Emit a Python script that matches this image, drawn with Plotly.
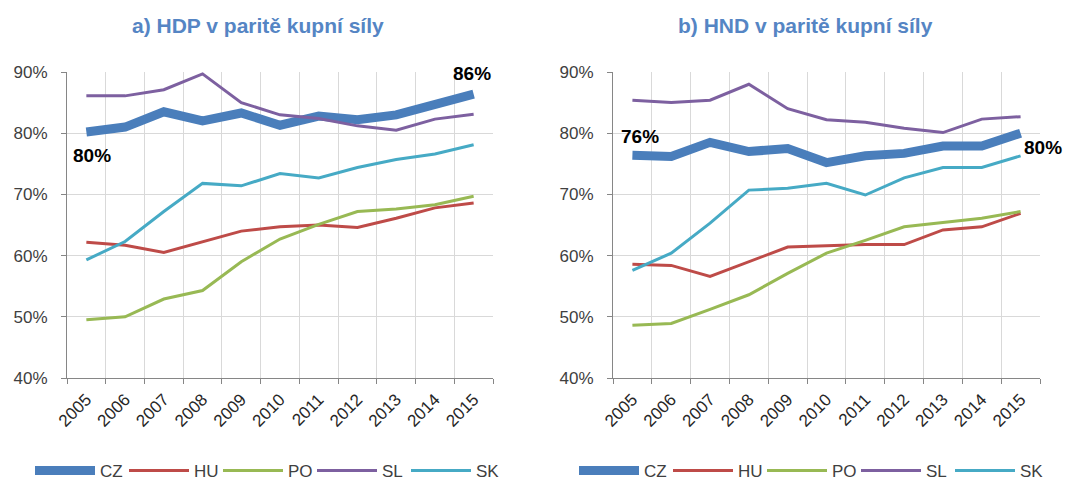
import plotly.graph_objects as go

years = [str(y) for y in range(2005, 2016)]
countries = ["CZ", "HU", "PO", "SL", "SK"]
colors = {"CZ": "#4A7EBB", "HU": "#BE4B48", "PO": "#98B954", "SL": "#7D60A0", "SK": "#46AAC5"}
widths = {"CZ": 9, "HU": 3, "PO": 3, "SL": 3, "SK": 3}

# a) HDP v paritě kupní síly (%)
hdp_CZ = [80.2, 81.0, 83.5, 82.0, 83.3, 81.3, 82.8, 82.2, 83.0, 84.6, 86.4]
hdp_HU = [62.2, 61.7, 60.5, 62.3, 64.0, 64.7, 65.0, 64.6, 66.1, 67.8, 68.6]
hdp_PO = [49.5, 50.0, 52.9, 54.3, 59.0, 62.7, 65.1, 67.2, 67.6, 68.3, 69.7]
hdp_SL = [86.1, 86.1, 87.1, 89.7, 85.0, 83.0, 82.4, 81.2, 80.5, 82.3, 83.1]
hdp_SK = [59.3, 62.3, 67.2, 71.8, 71.4, 73.4, 72.7, 74.4, 75.7, 76.6, 78.1]

# b) HND v paritě kupní síly (%)
hnd_CZ = [76.4, 76.2, 78.5, 77.0, 77.5, 75.2, 76.3, 76.7, 77.9, 77.9, 80.0]
hnd_HU = [58.6, 58.4, 56.6, 59.0, 61.4, 61.6, 61.8, 61.8, 64.2, 64.7, 66.9]
hnd_PO = [48.6, 48.9, 51.2, 53.6, 57.1, 60.4, 62.5, 64.7, 65.4, 66.1, 67.2]
hnd_SL = [85.4, 85.0, 85.4, 88.0, 84.0, 82.2, 81.8, 80.8, 80.1, 82.3, 82.7]
hnd_SK = [57.6, 60.4, 65.3, 70.7, 71.0, 71.8, 69.9, 72.7, 74.4, 74.4, 76.3]

y_ticks = [40, 50, 60, 70, 80, 90]
titles = ["a) HDP v paritě kupní síly", "b) HND v paritě kupní síly"]

hdp = {"CZ": hdp_CZ, "HU": hdp_HU, "PO": hdp_PO, "SL": hdp_SL, "SK": hdp_SK}
hnd = {"CZ": hnd_CZ, "HU": hnd_HU, "PO": hnd_PO, "SL": hnd_SL, "SK": hnd_SK}

W, H = 1065, 489
fig = go.Figure()
xs = list(range(len(years)))

for panel, (data, leg) in enumerate([(hdp, "legend"), (hnd, "legend2")]):
    ax = "" if panel == 0 else "2"
    for c in countries:
        fig.add_trace(go.Scatter(
            x=xs, y=data[c], name=c, mode="lines",
            line=dict(color=colors[c], width=widths[c]),
            xaxis="x" + ax, yaxis="y" + ax, legend=leg,
            hovertemplate="%{y:.1f}%<extra>" + c + "</extra>",
        ))

left_dom = [67 / W, 493 / W]
right_dom = [613 / W, 1040 / W]
y_dom = [1 - 378 / H, 1 - 72 / H]

FONT = "Liberation Sans, Arial"
tickfont = dict(family=FONT, size=17, color="#404040")
xfont = dict(family=FONT, size=17, color="#262626")

def xaxis(dom, anchor):
    return dict(
        domain=dom, anchor=anchor, range=[-0.5, len(years) - 0.5],
        tickmode="array", tickvals=xs, ticktext=years, tickangle=-45,
        showgrid=False, ticks="", tickfont=xfont, ticklabelstandoff=4,
        showline=True, linecolor="#868686", linewidth=1, zeroline=False,
        minor=dict(tickmode="linear", tick0=-0.5, dtick=1, showgrid=True,
                   gridcolor="#D9D9D9", gridwidth=1, ticks="outside",
                   ticklen=5, tickcolor="#868686"),
        fixedrange=True,
    )

def yaxis(anchor):
    return dict(
        domain=y_dom, anchor=anchor, range=[40, 90],
        tickmode="array", tickvals=y_ticks, ticktext=[f"{v}%" for v in y_ticks],
        showgrid=True, gridcolor="#D9D9D9", gridwidth=1,
        ticks="outside", ticklen=5, tickcolor="#868686", ticklabelstandoff=10,
        showline=True, linecolor="#868686", linewidth=1, zeroline=False,
        tickfont=tickfont, fixedrange=True,
    )

legend_common = dict(
    orientation="h", yanchor="bottom", y=0, xanchor="left",
    font=dict(family=FONT, size=17, color="#404040"),
    entrywidth=19, entrywidthmode="pixels", itemwidth=60, bgcolor="rgba(0,0,0,0)",
    tracegroupgap=0, borderwidth=0,
)

fig.update_layout(
    width=W, height=H, template="none",
    paper_bgcolor="white", plot_bgcolor="white",
    margin=dict(l=0, r=0, t=0, b=0),
    xaxis=xaxis(left_dom, "y"), yaxis=yaxis("x"),
    xaxis2=xaxis(right_dom, "y2"), yaxis2=yaxis("x2"),
    legend=dict(x=30 / W, **legend_common),
    legend2=dict(x=574 / W, **legend_common),
    showlegend=True,
)

title_font = dict(family=FONT, size=21, color="#5585C4")
for t, xc in zip(titles, [258, 805]):
    fig.add_annotation(text="<b>" + t + "</b>", x=xc / W, y=1 - 25 / H, xref="paper", yref="paper",
                       showarrow=False, font=title_font, xanchor="center", yanchor="middle")

lab_font = dict(family=FONT, size=19, color="#000000")
# data labels on the CZ series
fig.add_annotation(x=xs[0], y=hdp_CZ[0], xref="x", yref="y", text=f"<b>{round(hdp_CZ[0])}%</b>",
                   showarrow=False, font=lab_font, yshift=-24, xshift=6)
fig.add_annotation(x=xs[-1], y=hdp_CZ[-1], xref="x", yref="y", text=f"<b>{round(hdp_CZ[-1])}%</b>",
                   showarrow=False, font=lab_font, yshift=21, xshift=-2)
fig.add_annotation(x=xs[0], y=hnd_CZ[0], xref="x2", yref="y2", text=f"<b>{round(hnd_CZ[0])}%</b>",
                   showarrow=False, font=lab_font, yshift=19, xshift=8)
fig.add_annotation(x=xs[-1], y=hnd_CZ[-1], xref="x2", yref="y2", text=f"<b>{round(hnd_CZ[-1])}%</b>",
                   showarrow=False, font=lab_font, yshift=-14, xshift=22)

fig.write_html("out.html", config={"displayModeBar": False},
               post_script="document.body.style.margin='0';document.body.style.overflow='hidden';")
